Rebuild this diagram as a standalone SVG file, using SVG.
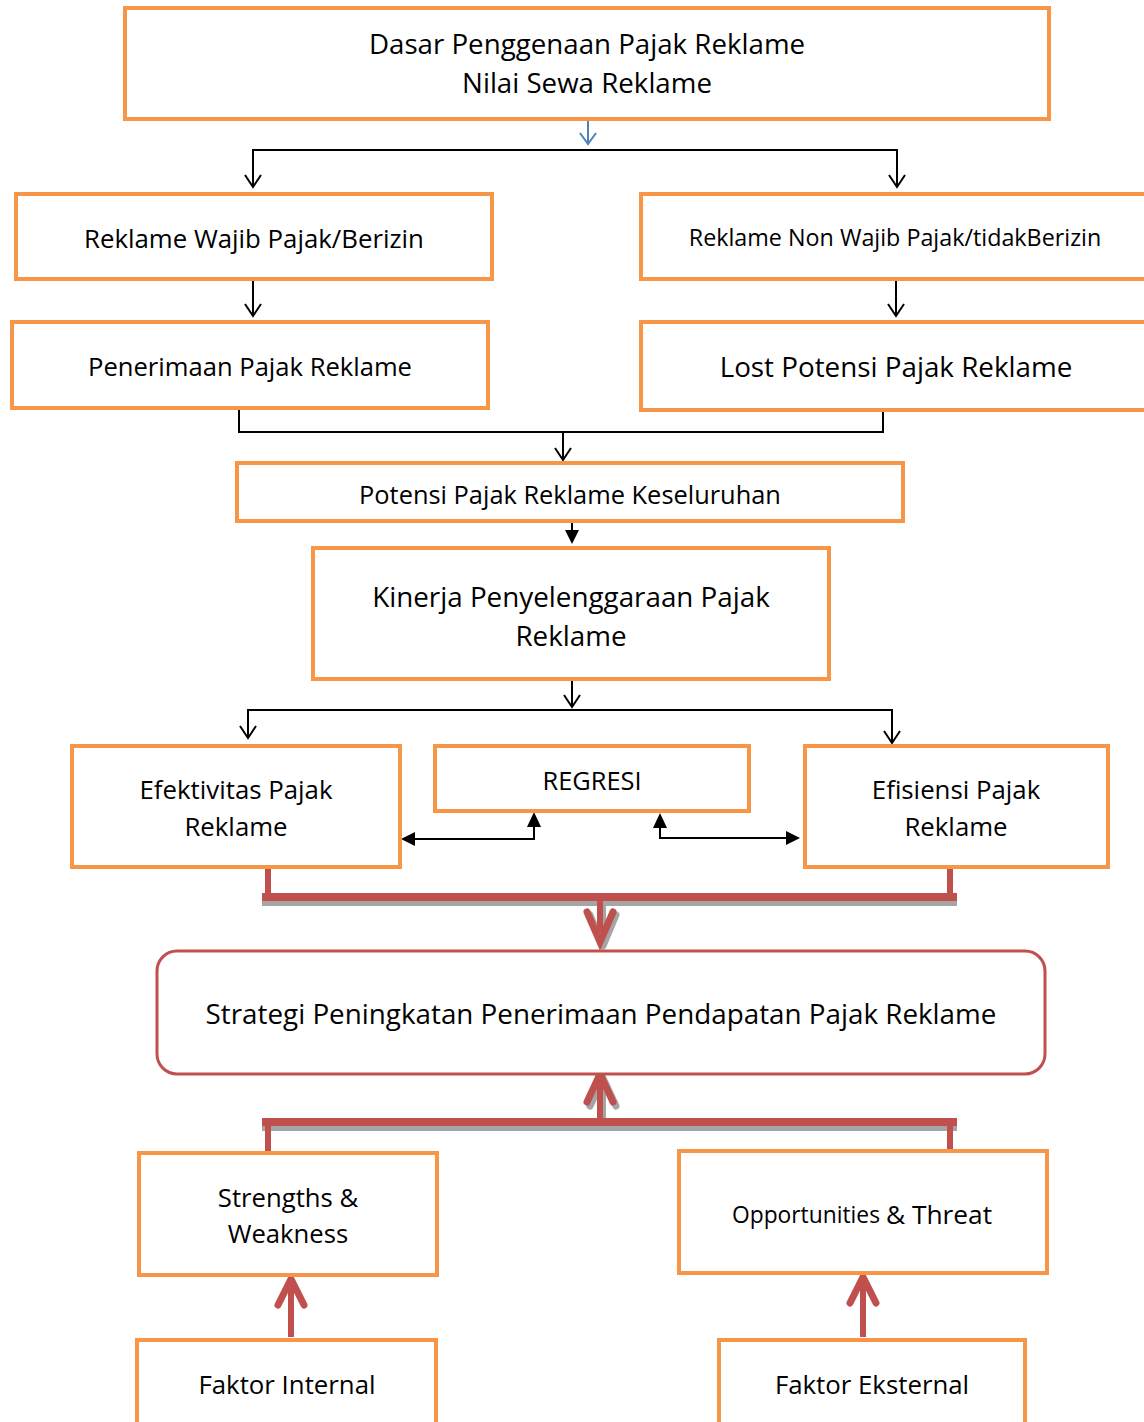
<svg xmlns="http://www.w3.org/2000/svg" width="1144" height="1422" viewBox="0 0 1144 1422">
<defs>
<style>
.box{fill:#fff;stroke:#F79646;stroke-width:4}
.t{font-family:"Open Sans","Noto Sans",sans-serif;fill:#000;text-anchor:middle;dominant-baseline:central}
.ln{fill:none;stroke:#000;stroke-width:2}
.red{fill:none;stroke:#C0504D;stroke-width:6}
.redbar{fill:none;stroke:#C0504D;stroke-width:8}
.shadow{fill:none;stroke:#A5A5A5;stroke-width:8}
</style>
</defs>
<rect width="1144" height="1422" fill="#fff"/>

<g id="connectors">
<path d="M588,121 V143" fill="none" stroke="#4F81BD" stroke-width="2"/>
<path d="M580,133 L588,144 L596,133" fill="none" stroke="#4F81BD" stroke-width="2"/>
<path class="ln" d="M253,187 V150 H897 V187"/>
<path class="ln" d="M245,175 L253,187 L261,175"/>
<path class="ln" d="M889,175 L897,187 L905,175"/>
<path class="ln" d="M253,280 V316 M245,304 L253,316 L261,304"/>
<path class="ln" d="M896,280 V316 M888,304 L896,316 L904,304"/>
<path class="ln" d="M239,405 V432 H883 V410"/>
<path class="ln" d="M563,432 V460 M555,448 L563,460 L571,448"/>
<path class="ln" d="M572,522 V532"/>
<path d="M565,530 L579,530 L572,544 Z" fill="#000"/>
<path class="ln" d="M572,681 V707 M564,695 L572,707 L580,695"/>
<path class="ln" d="M248,738 V710 H892 V743"/>
<path class="ln" d="M240,726 L248,738 L256,726"/>
<path class="ln" d="M884,731 L892,743 L900,731"/>
<path class="ln" d="M414,839 H534 V826"/>
<path d="M401,839 L415,832 L415,846 Z" fill="#000"/>
<path d="M534,812 L527,827 L541,827 Z" fill="#000"/>
<path class="ln" d="M660,826 V838 H786"/>
<path d="M660,813 L653,828 L667,828 Z" fill="#000"/>
<path d="M800,838 L786,831 L786,845 Z" fill="#000"/>
<path class="shadow" d="M262,902 H957"/>
<path class="red" d="M268,869 V897 M950,869 V897"/>
<path class="redbar" d="M262,897 H957"/>
<path d="M603,901 V934" fill="none" stroke="#A5A5A5" stroke-width="6"/>
<path d="M590,915 L603,946 L616,915" fill="none" stroke="#A5A5A5" stroke-width="7" stroke-linecap="round" stroke-linejoin="round"/>
<path d="M600,899 V932" fill="none" stroke="#C0504D" stroke-width="6"/>
<path d="M587,912 L600,942 L613,912" fill="none" stroke="#C0504D" stroke-width="7" stroke-linecap="round"/>
<path class="shadow" d="M262,1127 H957"/>
<path d="M603,1121 V1086" fill="none" stroke="#A5A5A5" stroke-width="6"/>
<path d="M590,1106 L603,1078 L616,1106" fill="none" stroke="#A5A5A5" stroke-width="7" stroke-linecap="round"/>
<path d="M600,1121 V1082" fill="none" stroke="#C0504D" stroke-width="6"/>
<path d="M587,1102 L600,1074 L613,1102" fill="none" stroke="#C0504D" stroke-width="7" stroke-linecap="round"/>
<path class="redbar" d="M262,1122 H957"/>
<path class="red" d="M268,1122 V1152 M950,1122 V1150"/>
<path d="M291,1337 V1284" fill="none" stroke="#C0504D" stroke-width="6"/>
<path d="M278,1305 L291,1279 L304,1305" fill="none" stroke="#C0504D" stroke-width="7" stroke-linecap="round"/>
<path d="M863,1337 V1282" fill="none" stroke="#C0504D" stroke-width="6"/>
<path d="M850,1303 L863,1277 L876,1303" fill="none" stroke="#C0504D" stroke-width="7" stroke-linecap="round"/>
</g>

<g id="n1"><rect class="box" x="125" y="8" width="924" height="111"/>
<text class="t" x="587" y="43" font-size="27.7">Dasar Penggenaan Pajak Reklame</text>
<text class="t" x="587" y="82" font-size="27.7">Nilai Sewa Reklame</text></g>
<g id="n2"><rect class="box" x="16" y="194" width="476" height="85"/>
<text class="t" x="254" y="238" font-size="25.8">Reklame Wajib Pajak/Berizin</text></g>
<g id="n3"><rect class="box" x="641" y="194" width="510" height="85"/>
<text class="t" x="895" y="237" font-size="23.3">Reklame Non Wajib Pajak/tidakBerizin</text></g>
<g id="n4"><rect class="box" x="12" y="322" width="476" height="86"/>
<text class="t" x="250" y="366" font-size="25.6">Penerimaan Pajak Reklame</text></g>
<g id="n5"><rect class="box" x="641" y="322" width="510" height="88"/>
<text class="t" x="896" y="366" font-size="27.8">Lost Potensi Pajak Reklame</text></g>
<g id="n6"><rect class="box" x="237" y="463" width="666" height="58"/>
<text class="t" x="570" y="494" font-size="25.4">Potensi Pajak Reklame Keseluruhan</text></g>
<g id="n7"><rect class="box" x="313" y="548" width="516" height="131"/>
<text class="t" x="571" y="596" font-size="27.8">Kinerja Penyelenggaraan Pajak</text>
<text class="t" x="571" y="635" font-size="27.8">Reklame</text></g>
<g id="n8"><rect class="box" x="72" y="746" width="328" height="121"/>
<text class="t" x="236" y="789" font-size="25.8">Efektivitas Pajak</text>
<text class="t" x="236" y="826" font-size="25.8">Reklame</text></g>
<g id="n9"><rect class="box" x="435" y="746" width="314" height="65"/>
<text class="t" x="592" y="780" font-size="25.4">REGRESI</text></g>
<g id="n10"><rect class="box" x="805" y="746" width="303" height="121"/>
<text class="t" x="956" y="789" font-size="25.8">Efisiensi Pajak</text>
<text class="t" x="956" y="826" font-size="25.8">Reklame</text></g>
<g id="n11"><rect x="157" y="951" width="888" height="123" rx="20" fill="#fff" stroke="#C0504D" stroke-width="3"/>
<text class="t" x="601" y="1013" font-size="27.8">Strategi Peningkatan Penerimaan Pendapatan Pajak Reklame</text></g>
<g id="n12"><rect class="box" x="139" y="1153" width="298" height="122"/>
<text class="t" x="288" y="1197" font-size="25.7">Strengths &amp;</text>
<text class="t" x="288" y="1233" font-size="25.7">Weakness</text></g>
<g id="n13"><rect class="box" x="679" y="1151" width="368" height="122"/>
<text class="t" x="862" y="1214"><tspan font-size="22.8">Opportunities </tspan><tspan font-size="26.3">&amp; Threat</tspan></text></g>
<g id="n14"><rect class="box" x="137" y="1340" width="299" height="90"/>
<text class="t" x="287" y="1384" font-size="25.8">Faktor Internal</text></g>
<g id="n15"><rect class="box" x="719" y="1340" width="306" height="90"/>
<text class="t" x="872" y="1384" font-size="25.8">Faktor Eksternal</text></g>
</svg>
